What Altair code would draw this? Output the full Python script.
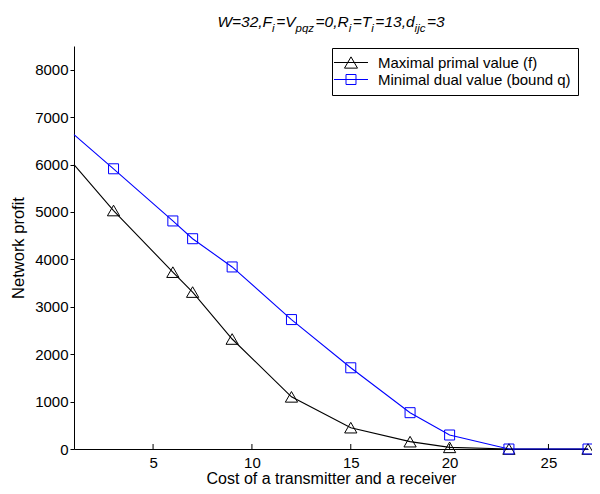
import altair as alt
import pandas as pd

# ---------------- data ----------------
x_vals = [1, 3, 6, 7, 9, 12, 15, 18, 20, 23, 27]
has_marker = [False, True, True, True, True, True, True, True, True, True, True]
primal_vals = [6000, 5030, 3730, 3310, 2320, 1100, 450, 155, 35, 0, 0]
dual_vals = [6630, 5910, 4810, 4435, 3840, 2730, 1713, 766, 295, 0, 0]
series_names = ["Maximal primal value (f)", "Minimal dual value (bound q)"]
series_colors = ["#000000", "#0000ff"]
x_ticks = [5, 10, 15, 20, 25]
y_ticks = [0, 1000, 2000, 3000, 4000, 5000, 6000, 7000, 8000]
x_domain = [1, 27]
y_domain = [0, 8500]
x_title = "Cost of a transmitter and a receiver"
y_title = "Network profit"
# (text, is_subscript)
title_parts = [("W=32,F", False), ("i", True), ("=V", False), ("pqz", True),
               ("=0,R", False), ("i", True), ("=T", False), ("i", True),
               ("=13,d", False), ("ijc", True), ("=3", False)]

# ---------------- layout ----------------
W, H = 514, 403
PAD = {"left": 66, "right": 4, "top": 38, "bottom": 37}
FONT = "Liberation Sans"
MAIN_FS, SUB_FS, SUB_GAP = 15.5, 11.5, 1.5

rows = []
for sname, vals in zip(series_names, [primal_vals, dual_vals]):
    for xv, yv, mk in zip(x_vals, vals, has_marker):
        rows.append({"x": xv, "value": yv, "series": sname, "marker": mk})
df = pd.DataFrame(rows)

xscale = alt.Scale(domain=x_domain, nice=False, zero=False)
yscale = alt.Scale(domain=y_domain, nice=False, zero=False)
color_scale = alt.Scale(domain=series_names, range=series_colors)

x_axis = alt.Axis(values=x_ticks, tickSize=0, labelPadding=6, labelFontSize=15,
                  labelFont=FONT, labelColor="black", title=x_title,
                  titleFont=FONT, titleFontSize=16, titleFontWeight="normal",
                  titleColor="black", titlePadding=0, domainColor="black",
                  grid=False, format="d")
y_axis = alt.Axis(values=y_ticks, tickSize=4, tickColor="black", labelPadding=2,
                  labelFontSize=15, labelFont=FONT, labelColor="black",
                  title=y_title, titleFont=FONT, titleFontSize=16.5,
                  titleFontWeight="normal", titleColor="black", titlePadding=8,
                  domainColor="black", grid=False, format="d")

X = alt.X("x:Q", scale=xscale, axis=x_axis)
Y = alt.Y("value:Q", scale=yscale, axis=y_axis)

base = alt.Chart(df)


def series_filter(i, markers_only=False):
    cond = alt.datum.series == series_names[i]
    if markers_only:
        cond = cond & alt.datum.marker
    return cond


line_f = base.transform_filter(series_filter(0)).mark_line(
    strokeWidth=1.1, color=series_colors[0]).encode(x=X, y=Y)
line_q = base.transform_filter(series_filter(1)).mark_line(
    strokeWidth=1.1, color=series_colors[1]).encode(x=X, y=Y)

tri = base.transform_filter(series_filter(0, True)).mark_point(
    shape="triangle-up", size=150, filled=False, color=series_colors[0],
    strokeWidth=1, opacity=1).encode(x=X, y=Y)
sq = base.transform_filter(series_filter(1, True)).mark_point(
    shape="square", size=100, filled=False, color=series_colors[1],
    strokeWidth=1, opacity=1).encode(x=X, y=Y)

# legend symbols: line with marker (custom paths, unit = sqrt(196)/2 = 7 px)
path_tri = "M-1.786,0H3.071M0.643,-0.804L-0.286,0.804L1.572,0.804Z"
path_sq = "M-1.786,0H3.071M-0.071,-0.714H1.357V0.714H-0.071Z"
legend_def = alt.Legend(title=None, orient="none", legendX=258, legendY=2,
                        padding=7, symbolSize=196, symbolStrokeWidth=1,
                        symbolOpacity=1, labelOffset=24, labelFontSize=15,
                        labelFont=FONT, labelColor="black", labelLimit=400,
                        strokeColor="black", fillColor="white", rowPadding=1)
legend_layer = base.mark_point(opacity=0, filled=False).encode(
    x=X, y=Y,
    color=alt.Color("series:N", scale=color_scale, legend=legend_def),
    shape=alt.Shape("series:N", scale=alt.Scale(domain=series_names,
                                                range=[path_tri, path_sq]),
                    legend=legend_def),
)

# inward x ticks
tick_df = pd.DataFrame({"x": x_ticks})
xticks = alt.Chart(tick_df).mark_rule(color="black", strokeWidth=1).encode(
    x=X, y=alt.value(H), y2=alt.value(H - 5))

# title with subscripts
adv = {'W': 944, '=': 584, '3': 556, '2': 556, ',': 278, 'F': 611, 'i': 222,
       'V': 667, 'p': 556, 'q': 556, 'z': 500, '0': 556, 'R': 722, 'T': 611,
       '1': 556, 'd': 556, 'j': 222, 'c': 500}
widths = []
for txt, sub in title_parts:
    fs = SUB_FS if sub else MAIN_FS
    w = sum(adv[c] for c in txt) * fs / 1000.0
    if sub:
        w += SUB_GAP
    widths.append(w)
total = sum(widths)
cur = W / 2 - total / 2
title_layers = []
one = pd.DataFrame({"a": [0]})
for (txt, sub), w in zip(title_parts, widths):
    title_layers.append(
        alt.Chart(one).mark_text(
            x=cur, y=(-14 if sub else -19), align="left", baseline="alphabetic",
            fontSize=(SUB_FS if sub else MAIN_FS), font=FONT, fontStyle="italic",
            color="black").encode(text=alt.value(txt)))
    cur += w

chart = alt.layer(line_f, line_q, tri, sq, legend_layer, xticks,
                  *title_layers).properties(
    width=W, height=H, background="white",
    autosize=alt.AutoSizeParams(type="none"),
    padding=PAD,
).configure_view(stroke=None)

chart.save("out.html", embed_options={"renderer": "svg", "actions": False})
